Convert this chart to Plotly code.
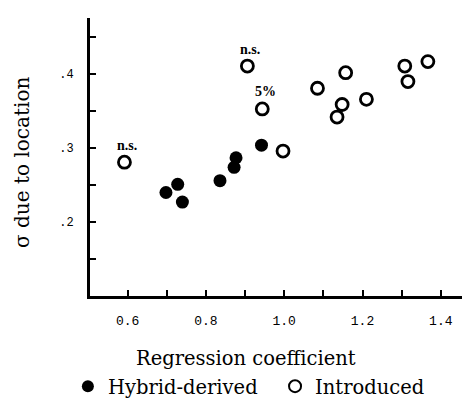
import plotly.graph_objects as go

# Data
hybrid_x = [0.698, 0.728, 0.740, 0.836, 0.872, 0.877, 0.942]
hybrid_y = [0.240, 0.251, 0.227, 0.256, 0.274, 0.287, 0.304]

intro_x = [0.592, 0.906, 0.944, 0.997, 1.085, 1.157, 1.148, 1.135, 1.210, 1.308, 1.316, 1.367]
intro_y = [0.281, 0.411, 0.353, 0.296, 0.381, 0.402, 0.359, 0.342, 0.366, 0.411, 0.390, 0.417]

x_tickvals = [0.6, 0.7, 0.8, 0.9, 1.0, 1.1, 1.2, 1.3, 1.4]
x_ticktext = ["0.6", "", "0.8", "", "1.0", "", "1.2", "", "1.4"]
y_tickvals = [0.15, 0.2, 0.25, 0.3, 0.35, 0.4, 0.45]
y_ticktext = ["", ".2", "", ".3", "", ".4", ""]

notes = [(0.592, 0.281, "n.s."), (0.906, 0.411, "n.s."), (0.944, 0.353, "5%")]

serif = "DejaVu Serif"

fig = go.Figure()
fig.add_trace(go.Scatter(
    x=hybrid_x, y=hybrid_y, mode="markers", name="Hybrid-derived\u00a0\u00a0",
    marker=dict(size=13, color="black", line=dict(width=0)),
))
fig.add_trace(go.Scatter(
    x=intro_x, y=intro_y, mode="markers", name="Introduced",
    marker=dict(size=12, color="white", line=dict(width=2.8, color="black")),
))

for nx, ny, t in notes:
    fig.add_annotation(x=nx, y=ny, text="<b>" + t + "</b>", showarrow=False,
                       yshift=17, xshift=3, font=dict(family="Liberation Serif", size=14, color="black"))

fig.add_annotation(xref="paper", yref="paper", x=0.402, y=-0.226, text="Regression coefficient",
                   showarrow=False, xanchor="center", yanchor="middle",
                   font=dict(family=serif, size=19.5, color="black"))
fig.add_annotation(xref="paper", yref="paper", x=-0.175, y=0.479, text="σ due to location",
                   showarrow=False, xanchor="center", yanchor="middle", textangle=-90,
                   font=dict(family=serif, size=20, color="black"))

fig.update_layout(
    width=470, height=398,
    margin=dict(l=82, r=0, t=10, b=100),
    paper_bgcolor="white", plot_bgcolor="white",
    showlegend=True,
    legend=dict(orientation="h", x=-0.057, xanchor="left", y=-0.326, yanchor="middle",
                font=dict(family=serif, size=19.5, color="black"),
                itemsizing="constant", itemwidth=30, bgcolor="rgba(0,0,0,0)"),
    xaxis=dict(
        range=[0.504, 1.495], showgrid=False, zeroline=False, automargin=False,
        showline=True, linecolor="black", linewidth=3,
        tickvals=x_tickvals, ticktext=x_ticktext,
        ticks="inside", ticklen=6, tickwidth=1.5, tickcolor="black",
        ticklabelstandoff=10,
        tickfont=dict(family="Liberation Mono", size=13, color="black"),
    ),
    yaxis=dict(
        range=[0.1, 0.476], showgrid=False, zeroline=False, automargin=False,
        showline=True, linecolor="black", linewidth=3,
        tickvals=y_tickvals, ticktext=y_ticktext,
        ticks="inside", ticklen=6, tickwidth=1.5, tickcolor="black",
        ticklabelstandoff=11,
        tickfont=dict(family="Liberation Mono", size=12, color="black"),
    ),
)

fig.write_html("out.html")
